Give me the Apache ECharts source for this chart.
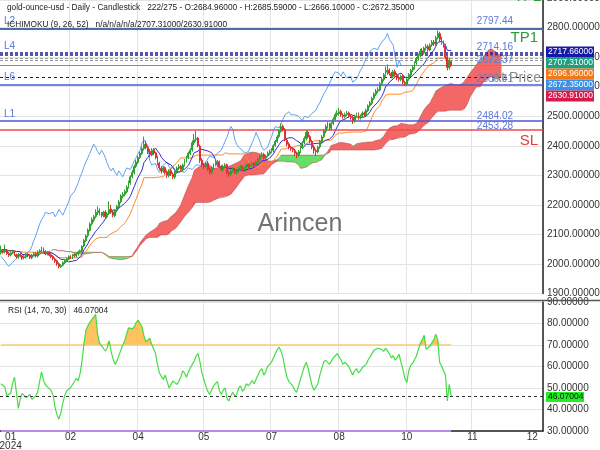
<!DOCTYPE html>
<html><head><meta charset="utf-8">
<script src="https://cdn.jsdelivr.net/npm/echarts@6.0.0/dist/echarts.min.js"></script>
<style>html,body{margin:0;padding:0;background:#fff}#c{width:600px;height:450px}</style>
</head><body><div id="c"></div>
<script>
const opens=[
2038,2046,2041,2047,2036,2031,2037,2043,2031,2024,
2033,2027,2021,2024,2033,2029,2021,2031,2036,2027,
2041,2044,2051,2043,2034,2041,2031,2026,2017,2011,
2001,1991,1996,2004,2011,2017,2026,2021,2031,2027,
2034,2041,2044,2061,2079,2096,2114,2136,2149,2161,
2174,2181,2171,2164,2176,2159,2171,2186,2176,2164,
2181,2194,2211,2229,2236,2244,2261,2274,2296,2309,
2331,2344,2361,2374,2391,2406,2394,2381,2369,2386,
2376,2361,2341,2324,2314,2326,2311,2299,2316,2304,
2294,2311,2324,2331,2319,2336,2349,2361,2374,2386,
2409,2421,2426,2399,2351,2334,2329,2341,2321,2309,
2324,2336,2339,2346,2329,2319,2331,2336,2309,2304,
2316,2321,2309,2316,2324,2331,2319,2326,2336,2329,
2336,2341,2334,2346,2354,2366,2371,2359,2366,2374,
2381,2384,2401,2414,2431,2449,2466,2454,2419,2406,
2394,2391,2384,2376,2369,2381,2394,2411,2424,2446,
2431,2414,2396,2384,2379,2396,2414,2431,2449,2464,
2471,2459,2476,2489,2506,2509,2516,2504,2499,2506,
2511,2499,2496,2484,2501,2506,2494,2501,2511,2504,
2519,2536,2544,2561,2574,2586,2589,2611,2624,2641,
2649,2656,2644,2634,2651,2639,2631,2624,2636,2614,
2609,2626,2639,2656,2664,2681,2694,2706,2721,2714,
2731,2736,2724,2741,2751,2744,2766,2779,2759,2751,
2741,2701,2664,2684.96];
const closes=[
2045,2040,2048,2035,2030,2038,2042,2030,2025,2032,
2028,2020,2025,2032,2028,2022,2030,2035,2028,2040,
2045,2050,2042,2035,2040,2030,2025,2018,2010,2000,
1992,1995,2005,2010,2018,2025,2022,2030,2028,2035,
2040,2045,2060,2080,2095,2115,2135,2150,2160,2175,
2180,2170,2165,2175,2160,2170,2185,2175,2165,2180,
2195,2210,2230,2235,2245,2260,2275,2295,2310,2330,
2345,2360,2375,2390,2405,2395,2380,2370,2385,2375,
2360,2340,2325,2315,2325,2310,2300,2315,2305,2295,
2310,2325,2330,2320,2335,2350,2360,2375,2385,2410,
2420,2425,2400,2350,2335,2330,2340,2320,2310,2325,
2335,2340,2345,2330,2320,2330,2335,2310,2305,2315,
2320,2310,2315,2325,2330,2320,2325,2335,2330,2335,
2340,2335,2345,2355,2365,2370,2360,2365,2375,2380,
2385,2400,2415,2430,2450,2465,2455,2420,2405,2395,
2390,2385,2375,2370,2380,2395,2410,2425,2445,2430,
2415,2395,2385,2380,2395,2415,2430,2450,2465,2470,
2460,2475,2490,2505,2510,2515,2505,2500,2505,2510,
2500,2495,2485,2500,2505,2495,2500,2510,2505,2520,
2535,2545,2560,2575,2585,2590,2610,2625,2640,2650,
2655,2645,2635,2650,2640,2630,2625,2635,2615,2610,
2625,2640,2655,2665,2680,2695,2705,2720,2715,2730,
2735,2725,2740,2750,2745,2765,2780,2760,2750,2740,
2700,2665,2690,2672.35];
const highs=[
2062,2050,2066,2051,2041,2043,2048,2046,2035,2037,
2038,2031,2030,2037,2037,2033,2034,2041,2040,2046,
2050,2058,2056,2047,2044,2045,2036,2030,2022,2015,
2005,2000,2009,2015,2022,2029,2030,2034,2036,2039,
2045,2049,2063,2085,2100,2120,2141,2158,2166,2185,
2195,2188,2176,2180,2182,2176,2212,2200,2180,2185,
2200,2216,2236,2243,2252,2266,2282,2300,2318,2336,
2352,2366,2381,2397,2431,2417,2400,2389,2392,2392,
2380,2366,2346,2331,2331,2330,2317,2320,2321,2310,
2315,2330,2338,2336,2340,2355,2366,2380,2392,2418,
2440,2450,2430,2404,2358,2342,2346,2348,2326,2330,
2340,2347,2352,2350,2334,2336,2341,2340,2314,2320,
2326,2325,2320,2330,2336,2334,2330,2340,2340,2341,
2346,2345,2350,2360,2371,2378,2376,2370,2381,2387,
2392,2405,2420,2436,2456,2476,2472,2460,2425,2412,
2400,2396,2390,2380,2386,2400,2416,2432,2452,2450,
2436,2420,2402,2390,2400,2420,2436,2456,2472,2480,
2478,2480,2496,2512,2520,2528,2522,2510,2512,2518,
2516,2506,2502,2505,2512,2512,2506,2516,2516,2525,
2540,2552,2566,2580,2592,2598,2615,2632,2646,2668,
2675,2662,2650,2656,2658,2646,2638,2640,2642,2620,
2630,2646,2660,2672,2686,2700,2712,2728,2730,2735,
2745,2742,2746,2758,2758,2772,2790,2786,2768,2756,
2745,2706,2696,2685.59];
const lows=[
2032,2035,2036,2031,2024,2026,2033,2027,2019,2018,
2023,2014,2016,2019,2023,2017,2016,2026,2022,2022,
2036,2039,2038,2030,2029,2026,2020,2013,2004,1994,
1985,1986,1992,2000,2006,2013,2017,2017,2023,2023,
2028,2036,2040,2057,2074,2090,2110,2130,2142,2155,
2166,2164,2157,2158,2153,2154,2166,2170,2158,2159,
2175,2189,2205,2222,2229,2239,2255,2268,2290,2303,
2325,2338,2355,2368,2384,2388,2372,2362,2364,2368,
2354,2334,2318,2306,2308,2303,2291,2293,2298,2287,
2288,2305,2318,2313,2313,2330,2343,2355,2368,2380,
2402,2414,2395,2342,2328,2322,2323,2315,2303,2303,
2318,2330,2333,2326,2314,2313,2325,2303,2295,2298,
2309,2304,2302,2310,2318,2314,2313,2320,2324,2323,
2330,2329,2329,2340,2349,2360,2354,2353,2361,2368,
2375,2378,2396,2410,2425,2444,2448,2415,2398,2388,
2383,2378,2366,2358,2362,2375,2389,2405,2418,2424,
2408,2388,2373,2365,2374,2390,2409,2426,2442,2458,
2452,2453,2470,2484,2498,2502,2498,2492,2493,2500,
2494,2488,2474,2478,2495,2488,2489,2496,2498,2500,
2514,2530,2538,2555,2568,2578,2584,2604,2618,2634,
2640,2638,2628,2628,2634,2622,2617,2618,2608,2602,
2603,2620,2633,2650,2658,2674,2688,2700,2708,2708,
2722,2718,2720,2735,2738,2738,2760,2752,2742,2732,
2692,2655,2658,2666.1];
const rsiVals=[
52,52.5,50.5,46.5,46,47.5,52,55,48,40.5,
45,47.5,47,45.5,46,47,44.7,45.5,46.3,48,
53,57.5,53.5,51.5,50.5,50.2,48.8,46.5,41,37.5,
35.5,38.5,43,46.5,48.6,49.5,50.1,50,53,54.5,
53.3,57,63,71,77,79,80.5,81.3,83,84.3,
75,71,69.6,68.5,67.2,68.7,72,67,63.5,61,
62.5,63.3,67.5,70,71.9,75,78,78.6,77.5,78.5,
80.5,81.5,81,78.5,74.2,71.5,72,73.2,70.3,71,
66,61,57,55.4,54,56,56.5,50,50,53.3,
52.5,51.7,53,55,58,57,55,57.5,59.4,61,
62.5,64.9,66,62,57,54,51,48.5,47,49,
51,52,53,49,47,49,50,45,44,46.5,
48,46,47,50,51,48.5,49.5,52,51,52,
53.5,52,54,56,58,59,56,57.5,60,61,
62,64,66,68,69,67,64,59,55,53,
52,51,49,48,51,54,57,60,62,59,
55,51,49,48.5,52,56,59,62,63,63.5,
61,62.5,64,65,66,65.5,63,61,62,62.5,
60,58,56,58,59,57,58,59.5,59,61,
63,64.5,66,67.5,68,68.5,69,68,67,68.5,
69,66,64,65,63,64,65.7,62,58.7,54.5,
52.5,57.9,60.5,61.5,62,64.9,68,70.5,72.6,74.5,
68,68,69.5,71,72.5,75,72.6,62,60.2,61,
56,44,51.7,46.07004];

const totalSlots = 281;
const tickIdx = [5,36,71,105,140,175,210,244,275];
const tickText = ['01\n2024','02','04','05','07','08','10','11','12'];
const gridIdx = [36,71,105,140,175,210,244];

const levelVals  = [2797.44, 2714.16, 2707.31, 2696.96, 2689.6, 2672.37, 2630.91, 2606.41, 2484.02, 2453.28];
const levelLeft  = ['L2','L4','','','','','','L6','L1',''];
const levelRight = ['2797.44','2714.16','','','','2672.37','','2606.41','2484.02','2453.28'];
const boxVals = ['2717.66000','2707.31000','2696.96000','2672.35000','2630.91000'];
const rsiLast = 46.07004;
const headerText = 'gold-ounce-usd - Daily - Candlestick   222/275 - O:2684.96000 - H:2685.59000 - L:2666.10000 - C:2672.35000';
const ichiText = 'ICHIMOKU (9, 26, 52)   n/a/n/a/n/a/2707.31000/2630.91000';

// ---- derived tables ----
const n = closes.length;
const cats = [];
for (let i = 0; i < totalSlots; i++) { const k = tickIdx.indexOf(i); cats.push(k >= 0 ? tickText[k] : ''); }
function mid(i, len){ let hi=-Infinity, lo=Infinity; for(let k=Math.max(0,i-len+1);k<=i;k++){ if(highs[k]>hi)hi=highs[k]; if(lows[k]<lo)lo=lows[k]; } return (hi+lo)/2; }
const tenkan = closes.map((_, i) => mid(i, 9));
const kijun = closes.map((_, i) => mid(i, 26));
const spanA = new Array(totalSlots).fill(null), spanB = new Array(totalSlots).fill(null);
for (let i = 0; i < n; i++) { spanA[i+26] = (tenkan[i]+kijun[i])/2; spanB[i+26] = mid(i, 52); }
const chikou = [];
for (let j = 0; j + 26 < n; j++) chikou.push(closes[j+26]);
const cBase = spanA.map((a,i)=> a==null?null:Math.min(a,spanB[i]));
const cRed = spanA.map((a,i)=> a==null?null:Math.max(a-spanB[i],0));
const cGreen = spanA.map((a,i)=> a==null?null:Math.max(spanB[i]-a,0));
const rsiBase = rsiVals.map(()=>70);
const rsiOver = rsiVals.map(v => Math.max(v-70,0));
const line70 = closes.map(()=>70), line30 = closes.map(()=>30);
const candles = opens.map((o,i)=>[o, closes[i], lows[i], highs[i]]);

// ---- level line styles ----
const lvStyle = [
  {color:'#4a6ea8', width:2, type:'solid'},
  {color:'#1c1c9c', width:1.5, type:[3,2]},
  {color:'#1c1c9c', width:1.5, type:[3,2]},
  {color:'#9a9a9a', width:1, type:[3,2]},
  {color:'#9a9a9a', width:1, type:[3,2]},
  {color:'#8a8a8a', width:1, type:'solid'},
  {color:'#222', width:1, type:[3,3]},
  {color:'#4b5bd6', width:1.5, type:'solid'},
  {color:'#5555d5', width:1.5, type:'solid'},
  {color:'#f04a4a', width:1.5, type:'solid'}
];
const rightDist = [2,1,0,0,0,0,0,0,0,-1];
const noLine = {color:'rgba(0,0,0,0)', width:0};
const lblFont = 'Liberation Sans, Arial, sans-serif';
const mlData = [];
levelVals.forEach((v,i)=>{
  mlData.push({yAxis:v, lineStyle:lvStyle[i], label:{show: !!levelLeft[i], formatter: levelLeft[i], position:'insideStartTop', color:'#5a78dd', fontSize:10, fontFamily:lblFont, distance:[4,2]}});
  if (levelRight[i]) mlData.push({yAxis:v, lineStyle:noLine, label:{show:true, formatter: levelRight[i], position:'insideEndTop', color:'#5a78dd', fontSize:10, fontFamily:lblFont, distance:[30,rightDist[i]]}});
});
mlData.push({yAxis:levelVals[0], lineStyle:noLine, label:{show:true, formatter:'TP1', position:'insideEndBottom', color:'#2e9a3a', fontSize:15, fontFamily:lblFont, distance:[5,2]}});
mlData.push({yAxis:levelVals[6], lineStyle:noLine, label:{show:true, formatter:'At Price', position:'insideEndTop', color:'#8a8a8a', fontSize:14, fontFamily:lblFont, distance:[2,-8]}});
mlData.push({yAxis:levelVals[9], lineStyle:noLine, label:{show:true, formatter:'SL', position:'insideEndBottom', color:'#e83a3a', fontSize:15, fontFamily:lblFont, distance:[5,3]}});

const chart = echarts.init(document.getElementById('c'), null, {renderer:'canvas'});
const axisFont = {color:'#333', fontSize:10, fontFamily:lblFont};
const boxColors = ['#1818a8','#1f9e80','#f07818','#3890e8','#d41c4c'];
const graphics = [
  {type:'line', shape:{x1:0,y1:300.5,x2:600,y2:300.5}, style:{stroke:'#555', lineWidth:1.5}, z:50},
  {type:'text', x:7, y:8, style:{text:headerText, font:'8.3px '+lblFont, fill:'#222', verticalAlign:'middle'}, z:60},
  {type:'text', x:7, y:25, style:{text:ichiText, font:'8.3px '+lblFont, fill:'#222', verticalAlign:'middle'}, z:60},
  {type:'text', x:547, y:-2, style:{text:'2900.00000', font:'10px '+lblFont, fill:'#333', verticalAlign:'middle'}, z:60},
  {type:'text', x:514, y:-11, style:{text:'TP2', font:'15px '+lblFont, fill:'#2e9a3a'}, z:60},
  {type:'text', x:300, y:224, style:{text:'Arincen', font:'25px '+lblFont, fill:'rgba(90,90,90,0.85)', align:'center', verticalAlign:'middle'}, z:5},
  {type:'text', x:8, y:311, style:{text:'RSI (14, 70, 30)   ' + rsiLast.toFixed(5), font:'8.3px '+lblFont, fill:'#222', verticalAlign:'middle'}, z:60},
  {type:'rect', shape:{x:546,y:392,width:38,height:10}, style:{fill:'#22ee22'}, z:60},
  {type:'text', x:548, y:397, style:{text:rsiLast.toFixed(5), font:'8.5px '+lblFont, fill:'#111', verticalAlign:'middle'}, z:61}
];
boxVals.forEach((t,i)=>{
  const yc = 52 + i*11;
  graphics.push({type:'rect', shape:{x:546,y:yc-5.5,width:48,height:11}, style:{fill:boxColors[i]}, z:60});
  graphics.push({type:'text', x:548, y:yc, style:{text:t, font:'8.5px '+lblFont, fill:'#fff', verticalAlign:'middle'}, z:61});
});

const option = {
  animation:false,
  backgroundColor:'#fff',
  grid:[
    {left:0, right:57, top:0, height:293.6, outerBoundsMode:'none', containLabel:false},
    {left:0, right:57, top:302, height:129, outerBoundsMode:'none', containLabel:false}
  ],
  xAxis:[
    {type:'category', gridIndex:0, data:cats, boundaryGap:true, axisLine:{show:false}, axisTick:{show:false}, axisLabel:{show:false},
     splitLine:{show:true, interval:(i)=>gridIdx.includes(i), lineStyle:{color:'#e4e4e4'}}},
    {type:'category', gridIndex:1, data:cats, boundaryGap:true, axisLine:{show:true, lineStyle:{color:'#222', width:1.5}}, axisTick:{show:false},
     axisLabel:Object.assign({interval:(i)=>tickIdx.includes(i), margin:2, lineHeight:9}, axisFont),
     splitLine:{show:true, interval:(i)=>gridIdx.includes(i), lineStyle:{color:'#e4e4e4'}}}
  ],
  yAxis:[
    {type:'value', gridIndex:0, position:'right', min:1900, max:2893.03, interval:100, axisLine:{show:true, lineStyle:{color:'#222', width:1.5}}, axisTick:{show:false},
     axisLabel:Object.assign({margin:4, formatter:(v)=> (Math.abs(v%100)<1e-6 ? v.toFixed(5) : '')}, axisFont), splitLine:{lineStyle:{color:'#e4e4e4'}}},
    {type:'value', gridIndex:1, position:'right', min:30, max:90, interval:10, axisLine:{show:true, lineStyle:{color:'#222', width:1.5}}, axisTick:{show:false},
     axisLabel:Object.assign({margin:4, formatter:(v)=>v.toFixed(5)}, axisFont), splitLine:{lineStyle:{color:'#e4e4e4'}}}
  ],
  series:[
    {type:'line', name:'cloudBase', data:cBase, stack:'cloud', symbol:'none', lineStyle:{opacity:0}, z:1, silent:true},
    {type:'line', name:'cloudRed', data:cRed, stack:'cloud', symbol:'none', lineStyle:{opacity:0}, areaStyle:{color:'#f25f5f', opacity:0.95}, z:1, silent:true},
    {type:'line', name:'cloudGreen', data:cGreen, stack:'cloud', symbol:'none', lineStyle:{opacity:0}, areaStyle:{color:'#5fdc5f', opacity:0.95}, z:1, silent:true},
    {type:'line', name:'spanA', data:spanA, symbol:'none', lineStyle:{color:'#a03a3a', width:0.6, opacity:0.7}, z:2, silent:true},
    {type:'line', name:'spanB', data:spanB, symbol:'none', lineStyle:{color:'#a03a3a', width:0.6, opacity:0.7}, z:2, silent:true},
    {type:'line', name:'chikou', data:chikou, symbol:'none', lineStyle:{color:'#5ea2ee', width:1}, z:3},
    {type:'line', name:'kijun', data:kijun, symbol:'none', lineStyle:{color:'#ff8a2a', width:1}, z:3},
    {type:'line', name:'tenkan', data:tenkan, symbol:'none', lineStyle:{color:'#2f2fcc', width:1}, z:4},
    {type:'candlestick', name:'price', data:candles, barWidth:1.4,
     itemStyle:{color:'#2ea02e', color0:'#dd3030', borderColor:'#2ea02e', borderColor0:'#dd3030', borderWidth:1}, z:5,
     markLine:{symbol:['none','none'], silent:true, animation:false, data:mlData}},
    {type:'line', name:'rsiBase', xAxisIndex:1, yAxisIndex:1, data:rsiBase, stack:'ob', symbol:'none', lineStyle:{opacity:0}, silent:true},
    {type:'line', name:'rsiOver', xAxisIndex:1, yAxisIndex:1, data:rsiOver, stack:'ob', symbol:'none', lineStyle:{opacity:0}, areaStyle:{color:'#fbb942', opacity:0.85}, silent:true},
    {type:'line', name:'line70', xAxisIndex:1, yAxisIndex:1, data:line70, symbol:'none', lineStyle:{color:'#f7cc78', width:1.5}},
    {type:'line', name:'line30', xAxisIndex:1, yAxisIndex:1, data:line30, symbol:'none', lineStyle:{color:'#b98ae8', width:2}, clip:false},
    {type:'line', name:'rsi', xAxisIndex:1, yAxisIndex:1, data:rsiVals, symbol:'none', lineStyle:{color:'#44dd44', width:1.2}, z:4,
     markLine:{symbol:['none','none'], silent:true, label:{show:false}, data:[{yAxis:rsiLast, lineStyle:{color:'#333', type:[3,3], width:1}}]}}
  ],
  graphic:graphics
};
chart.setOption(option);
</script></body></html>
